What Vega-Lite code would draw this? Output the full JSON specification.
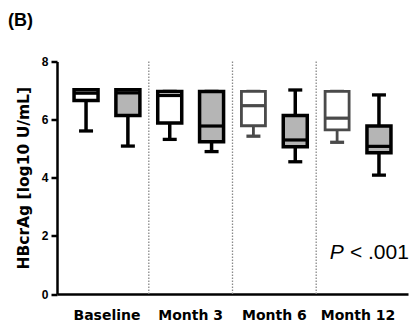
{
  "$schema": "https://vega.github.io/schema/vega-lite/v6.json",
  "autosize": "none",
  "width": 351,
  "height": 232.5,
  "padding": {"left": 57, "top": 61.5, "right": 2, "bottom": 31},
  "background": "white",
  "title": {"text": "(B)", "anchor": "start", "frame": "group", "dx": -49, "offset": 26, "fontSize": 18, "fontWeight": "bold", "font": "Liberation Sans", "color": "black"},
  "config": {
    "view": {"stroke": null},
    "axisX": {"domainWidth": 2.5, "domainColor": "black", "ticks": false, "labelAngle": 0, "labelFont": "DejaVu Sans", "labelFontWeight": "bold", "labelFontSize": 14, "labelColor": "black", "labelPadding": 14, "title": null, "grid": false},
    "axisY": {"domainWidth": 2.5, "domainColor": "black", "tickColor": "black", "tickWidth": 2.5, "tickSize": 6, "labelFont": "Liberation Sans", "labelFontWeight": "bold", "labelFontSize": 12, "labelColor": "black", "labelPadding": 3, "titleFont": "DejaVu Sans", "titleFontWeight": "bold", "titleFontSize": 15.5, "titleColor": "black", "titlePadding": 10, "grid": false}
  },
  "datasets": {
    "boxes": [
      {"group": "Baseline", "arm": "A", "lower": 5.61, "q1": 6.66, "median": 6.91, "q3": 7.03, "upper": 7.03},
      {"group": "Baseline", "arm": "B", "lower": 5.09, "q1": 6.14, "median": 6.92, "q3": 7.03, "upper": 7.03},
      {"group": "Month 3", "arm": "A", "lower": 5.32, "q1": 5.88, "median": 6.83, "q3": 6.97, "upper": 6.97},
      {"group": "Month 3", "arm": "B", "lower": 4.9, "q1": 5.24, "median": 5.78, "q3": 6.97, "upper": 6.97},
      {"group": "Month 6", "arm": "A", "lower": 5.43, "q1": 5.79, "median": 6.48, "q3": 6.97, "upper": 6.97},
      {"group": "Month 6", "arm": "B", "lower": 4.55, "q1": 5.07, "median": 5.3, "q3": 6.14, "upper": 7.02},
      {"group": "Month 12", "arm": "A", "lower": 5.22, "q1": 5.65, "median": 6.05, "q3": 6.97, "upper": 6.97},
      {"group": "Month 12", "arm": "B", "lower": 4.09, "q1": 4.86, "median": 5.08, "q3": 5.78, "upper": 6.85}
    ],
    "seps": [{"group": "Baseline"}, {"group": "Month 3"}, {"group": "Month 6"}]
  },
  "layer": [
    {
      "data": {"name": "seps"},
      "mark": {"type": "rule", "color": "#8a8a8a", "strokeDash": [1.5, 1.5], "strokeWidth": 1.3},
      "encoding": {
        "x": {"field": "group", "type": "nominal", "bandPosition": 1, "sort": ["Baseline", "Month 3", "Month 6", "Month 12"], "scale": {"type": "band", "domain": ["Baseline", "Month 3", "Month 6", "Month 12"], "paddingInner": 0, "paddingOuter": 0.097}},
        "y": {"datum": 0, "type": "quantitative", "scale": {"domain": [0, 8]}},
        "y2": {"datum": 8}
      }
    },
    {
      "data": {"name": "boxes"},
      "encoding": {
        "x": {"field": "group", "type": "nominal", "sort": ["Baseline", "Month 3", "Month 6", "Month 12"], "scale": {"type": "band", "domain": ["Baseline", "Month 3", "Month 6", "Month 12"], "paddingInner": 0, "paddingOuter": 0.097}},
        "xOffset": {"field": "arm", "type": "nominal", "scale": {"domain": ["A", "B"], "paddingInner": 0, "paddingOuter": 0}}
      },
      "layer": [
        {
          "mark": {"type": "rule"},
          "encoding": {
            "y": {"field": "lower", "type": "quantitative", "scale": {"domain": [0, 8]}, "axis": {"values": [0, 2, 4, 6, 8], "title": "HBcrAg [log10 U/mL]"}},
            "y2": {"field": "q1"},
            "color": {"condition": {"test": "datum.arm == 'A' && (datum.group == 'Month 6' || datum.group == 'Month 12')", "value": "#4a4a4a"}, "value": "black"},
            "strokeWidth": {"condition": {"test": "datum.arm == 'A' && (datum.group == 'Month 6' || datum.group == 'Month 12')", "value": 2.8}, "value": 3.5}
          }
        },
        {
          "mark": {"type": "rule"},
          "encoding": {
            "y": {"field": "q3", "type": "quantitative"},
            "y2": {"field": "upper"},
            "color": {"condition": {"test": "datum.arm == 'A' && (datum.group == 'Month 6' || datum.group == 'Month 12')", "value": "#4a4a4a"}, "value": "black"},
            "strokeWidth": {"value": 3.5}
          }
        },
        {
          "mark": {"type": "tick", "size": 14, "orient": "horizontal", "thickness": 3.3},
          "encoding": {
            "y": {"field": "upper", "type": "quantitative"},
            "color": {"condition": {"test": "datum.arm == 'A' && (datum.group == 'Month 6' || datum.group == 'Month 12')", "value": "#4a4a4a"}, "value": "black"},
            "opacity": {"value": 1}
          }
        },
        {
          "mark": {"type": "bar", "width": 24},
          "encoding": {
            "y": {"field": "q1", "type": "quantitative"},
            "y2": {"field": "q3"},
            "fill": {"field": "arm", "type": "nominal", "scale": {"domain": ["A", "B"], "range": ["white", "#b5b5b5"]}, "legend": null},
            "stroke": {"condition": {"test": "datum.arm == 'A' && (datum.group == 'Month 6' || datum.group == 'Month 12')", "value": "#4a4a4a"}, "value": "black"},
            "strokeWidth": {"condition": {"test": "datum.arm == 'A' && (datum.group == 'Month 6' || datum.group == 'Month 12')", "value": 2.8}, "value": 3.5}
          }
        },
        {
          "mark": {"type": "tick", "size": 24, "orient": "horizontal", "thickness": 3.2},
          "encoding": {
            "y": {"field": "median", "type": "quantitative"},
            "color": {"condition": {"test": "datum.arm == 'A' && (datum.group == 'Month 6' || datum.group == 'Month 12')", "value": "#4a4a4a"}, "value": "black"},
            "opacity": {"value": 1}
          }
        },
        {
          "mark": {"type": "tick", "size": 14, "orient": "horizontal", "thickness": 3.3},
          "encoding": {
            "y": {"field": "lower", "type": "quantitative"},
            "color": {"condition": {"test": "datum.arm == 'A' && (datum.group == 'Month 6' || datum.group == 'Month 12')", "value": "#4a4a4a"}, "value": "black"},
            "opacity": {"value": 1}
          }
        }
      ]
    },
    {
      "data": {"values": [{"label": "< .001"}]},
      "mark": {"type": "text", "align": "right", "baseline": "alphabetic", "dx": 9, "font": "Liberation Sans", "fontSize": 21, "color": "black"},
      "encoding": {
        "x": {"datum": "Month 12", "type": "nominal", "bandPosition": 1},
        "y": {"datum": 1.19, "type": "quantitative"},
        "text": {"field": "label"}
      }
    },
    {
      "data": {"values": [{"label": "P"}]},
      "mark": {"type": "text", "align": "right", "baseline": "alphabetic", "dx": -56, "font": "Liberation Sans", "fontStyle": "italic", "fontSize": 21, "color": "black"},
      "encoding": {
        "x": {"datum": "Month 12", "type": "nominal", "bandPosition": 1},
        "y": {"datum": 1.19, "type": "quantitative"},
        "text": {"field": "label"}
      }
    }
  ]
}
